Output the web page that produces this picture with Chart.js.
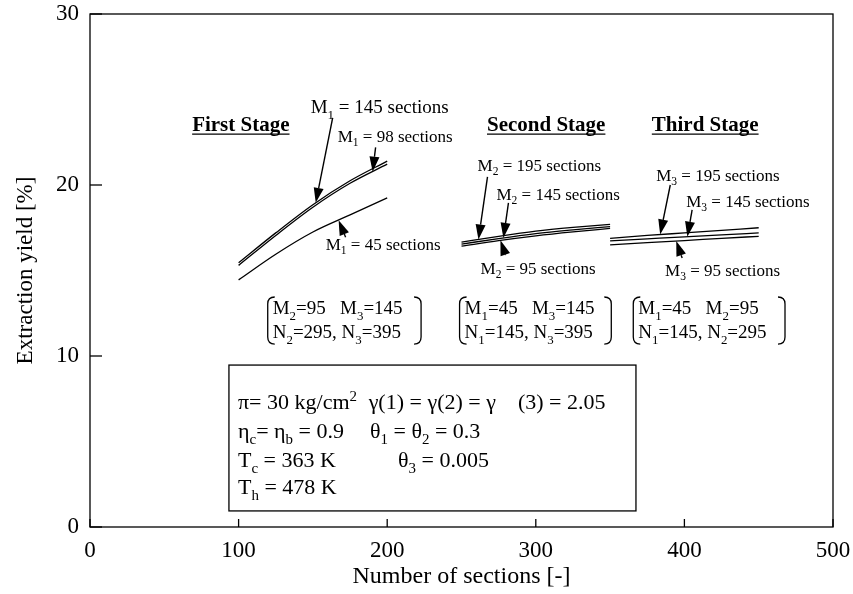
<!DOCTYPE html>
<html>
<head>
<meta charset="utf-8">
<script src="https://cdn.jsdelivr.net/npm/chart.js@4.4.0/dist/chart.umd.min.js"></script>
<style>
  html, body { margin: 0; padding: 0; background: #fff; }
</style>
</head>
<body>
<canvas id="chart" width="853" height="594"></canvas>
<script>
const FONT = "'Liberation Serif', 'Times New Roman', serif";

// first stage, M1 varied
const stage1X = [100, 125, 150, 175, 200];
const m1_145 = [15.45, 17.2, 18.85, 20.25, 21.4];
const m1_98 = [15.3, 17.05, 18.7, 20.1, 21.22];
const m1_45 = [14.45, 15.95, 17.25, 18.25, 19.25];

// second stage, M2 varied
const stage2X = [250, 275, 300, 325, 350];
const m2_195 = [16.66, 17.0, 17.3, 17.52, 17.7];
const m2_145 = [16.54, 16.87, 17.16, 17.38, 17.57];
const m2_95 = [16.42, 16.75, 17.03, 17.26, 17.46];

// third stage, M3 varied
const stage3X = [350, 375, 400, 425, 450];
const m3_195 = [16.88, 17.05, 17.2, 17.35, 17.5];
const m3_145 = [16.73, 16.85, 16.97, 17.08, 17.2];
const m3_95 = [16.5, 16.63, 16.75, 16.88, 17.0];

const xTicks = [0, 100, 200, 300, 400, 500];
const yTicks = [0, 10, 20, 30];

const series = {
  m1_145: [stage1X, m1_145], m1_98: [stage1X, m1_98], m1_45: [stage1X, m1_45],
  m2_195: [stage2X, m2_195], m2_145: [stage2X, m2_145], m2_95: [stage2X, m2_95],
  m3_195: [stage3X, m3_195], m3_145: [stage3X, m3_145], m3_95: [stage3X, m3_95]
};

function toPoints(xs, ys) {
  return xs.map((x, i) => ({ x: x, y: ys[i] }));
}

function yAt(name, x) {
  const xs = series[name][0], ys = series[name][1];
  for (let i = 0; i < xs.length - 1; i++) {
    if (x >= xs[i] && x <= xs[i + 1]) {
      const t = (x - xs[i]) / (xs[i + 1] - xs[i]);
      return ys[i] + t * (ys[i + 1] - ys[i]);
    }
  }
  return ys[ys.length - 1];
}

// labels and arrows, in data units
const stageTitles = [
  { text: 'First Stage', x: 101.5, y: 23.5 },
  { text: 'Second Stage', x: 307, y: 23.5 },
  { text: 'Third Stage', x: 414, y: 23.5 }
];

const lineLabels = [
  { text: 'M_{1} = 145 sections', x: 148.5, y: 24.56, size: 19 },
  { text: 'M_{1} = 98 sections', x: 166.7, y: 22.87, size: 17 },
  { text: 'M_{1} = 45 sections', x: 158.6, y: 16.55, size: 17 },
  { text: 'M_{2} = 195 sections', x: 260.8, y: 21.17, size: 17 },
  { text: 'M_{2} = 145 sections', x: 273.5, y: 19.47, size: 17 },
  { text: 'M_{2} = 95 sections', x: 262.8, y: 15.15, size: 17 },
  { text: 'M_{3} = 195 sections', x: 381, y: 20.58, size: 17 },
  { text: 'M_{3} = 145 sections', x: 401.2, y: 19.06, size: 17 },
  { text: 'M_{3} = 95 sections', x: 387, y: 15.03, size: 17 }
];

const arrows = [
  { fromX: 163.3, fromY: 23.92, to: 'm1_145', toX: 151.9 },
  { fromX: 192.2, fromY: 22.2, to: 'm1_98', toX: 190.2 },
  { fromX: 172, fromY: 16.95, to: 'm1_45', toX: 167.3 },
  { fromX: 267.5, fromY: 20.47, to: 'm2_195', toX: 261.4 },
  { fromX: 281.6, fromY: 18.95, to: 'm2_145', toX: 278.2 },
  { fromX: 279.6, fromY: 15.9, to: 'm2_95', toX: 276.2 },
  { fromX: 390.5, fromY: 20.0, to: 'm3_195', toX: 383.7 },
  { fromX: 405.2, fromY: 18.54, to: 'm3_145', toX: 402 },
  { fromX: 398.5, fromY: 15.73, to: 'm3_95', toX: 394.5 }
];

const brackets = [
  { x0: 119.6, x1: 222.8, rows: ['M_{2}=95   M_{3}=145', 'N_{2}=295, N_{3}=395'] },
  { x0: 248.7, x1: 350.8, rows: ['M_{1}=45   M_{3}=145', 'N_{1}=145, N_{3}=395'] },
  { x0: 365.6, x1: 467.7, rows: ['M_{1}=45   M_{2}=95', 'N_{1}=145, N_{2}=295'] }
];
const bracketTop = 13.45, bracketBottom = 10.7, bracketRows = [12.8, 11.4];

const paramBox = { x0: 93.5, x1: 367.4, y0: 0.94, y1: 9.47 };
const paramText = [
  { text: 'π= 30 kg/cm^{2}', x: 99.6, y: 7.3 },
  { text: 'γ(1) = γ(2) = γ    (3) = 2.05', x: 187.5, y: 7.3 },
  { text: 'η_{c}= η_{b} = 0.9', x: 99.6, y: 5.62 },
  { text: 'θ_{1} = θ_{2} = 0.3', x: 188.4, y: 5.62 },
  { text: 'T_{c} = 363 K', x: 99.6, y: 3.95 },
  { text: 'θ_{3} = 0.005', x: 207.3, y: 3.95 },
  { text: 'T_{h} = 478 K', x: 99.6, y: 2.34 }
];

// split "a_{b}c^{d}" into runs
function parseRich(str) {
  const parts = [];
  const re = /([_^])\{([^}]*)\}/g;
  let last = 0, m;
  while ((m = re.exec(str)) !== null) {
    if (m.index > last) parts.push({ t: str.slice(last, m.index), mode: '' });
    parts.push({ t: m[2], mode: m[1] === '_' ? 'sub' : 'sup' });
    last = re.lastIndex;
  }
  if (last < str.length) parts.push({ t: str.slice(last), mode: '' });
  return parts;
}

function drawRich(ctx, str, x, y, size, weight) {
  const parts = parseRich(str);
  const w = weight || 'normal';
  const base = y + size * 0.33;
  let cx = x;
  ctx.textAlign = 'left';
  ctx.textBaseline = 'alphabetic';
  parts.forEach(p => {
    let s = size, dy = 0;
    if (p.mode === 'sub') { s = size * 0.68; dy = size * 0.28; }
    if (p.mode === 'sup') { s = size * 0.68; dy = -size * 0.38; }
    ctx.font = w + ' ' + s + 'px ' + FONT;
    ctx.fillText(p.t, cx, base + dy);
    cx += ctx.measureText(p.t).width;
  });
  return cx - x;
}

function drawArrow(ctx, x1, y1, x2, y2) {
  const ang = Math.atan2(y2 - y1, x2 - x1);
  const len = 15, half = 5;
  const bx = x2 - len * Math.cos(ang), by = y2 - len * Math.sin(ang);
  ctx.beginPath();
  ctx.moveTo(x1, y1);
  ctx.lineTo(bx, by);
  ctx.lineWidth = 1.4;
  ctx.stroke();
  ctx.beginPath();
  ctx.moveTo(x2, y2);
  ctx.lineTo(bx + half * Math.sin(ang), by - half * Math.cos(ang));
  ctx.lineTo(bx - half * Math.sin(ang), by + half * Math.cos(ang));
  ctx.closePath();
  ctx.fill();
}

const notesPlugin = {
  id: 'notes',
  afterDraw(chart) {
    const ctx = chart.ctx;
    const xs = chart.scales.x, ys = chart.scales.y;
    const a = chart.chartArea;
    const px = v => xs.getPixelForValue(v);
    const py = v => ys.getPixelForValue(v);
    ctx.save();
    ctx.strokeStyle = '#000';
    ctx.fillStyle = '#000';

    // frame with inward ticks
    ctx.lineWidth = 1.3;
    ctx.strokeRect(a.left, a.top, a.right - a.left, a.bottom - a.top);
    yTicks.forEach(v => {
      ctx.beginPath();
      ctx.moveTo(a.left, py(v));
      ctx.lineTo(a.left + 12, py(v));
      ctx.stroke();
    });
    xTicks.forEach(v => {
      ctx.beginPath();
      ctx.moveTo(px(v), a.bottom);
      ctx.lineTo(px(v), a.bottom - 8);
      ctx.stroke();
    });

    // stage titles
    stageTitles.forEach(s => {
      ctx.font = 'bold 21px ' + FONT;
      ctx.textAlign = 'center';
      ctx.textBaseline = 'alphabetic';
      const w = ctx.measureText(s.text).width;
      const cx = px(s.x), base = py(s.y) + 6;
      ctx.fillText(s.text, cx, base);
      ctx.lineWidth = 1.2;
      ctx.beginPath();
      ctx.moveTo(cx - w / 2, base + 3);
      ctx.lineTo(cx + w / 2, base + 3);
      ctx.stroke();
    });

    lineLabels.forEach(l => drawRich(ctx, l.text, px(l.x), py(l.y), l.size));

    arrows.forEach(r => {
      drawArrow(ctx, px(r.fromX), py(r.fromY), px(r.toX), py(yAt(r.to, r.toX)));
    });

    // bracketed parameter sets
    brackets.forEach(b => {
      const l = px(b.x0), r = px(b.x1), t = py(bracketTop), btm = py(bracketBottom);
      const c = 7;
      ctx.lineWidth = 1.3;
      ctx.beginPath();
      ctx.moveTo(l + c, t);
      ctx.quadraticCurveTo(l, t, l, t + c);
      ctx.lineTo(l, btm - c);
      ctx.quadraticCurveTo(l, btm, l + c, btm);
      ctx.moveTo(r - c, t);
      ctx.quadraticCurveTo(r, t, r, t + c);
      ctx.lineTo(r, btm - c);
      ctx.quadraticCurveTo(r, btm, r - c, btm);
      ctx.stroke();
      b.rows.forEach((row, i) => drawRich(ctx, row, l + 5, py(bracketRows[i]), 19));
    });

    // operating conditions box
    ctx.lineWidth = 1.3;
    ctx.strokeRect(px(paramBox.x0), py(paramBox.y1),
      px(paramBox.x1) - px(paramBox.x0), py(paramBox.y0) - py(paramBox.y1));
    paramText.forEach(p => drawRich(ctx, p.text, px(p.x), py(p.y), 22));

    ctx.restore();
  }
};

const lineStyle = { borderColor: '#000', borderWidth: 1.3, pointRadius: 0, fill: false, cubicInterpolationMode: 'monotone' };

// keep the plot area fixed regardless of tick label overhang
function noOverhang(s) {
  s.paddingTop = 0;
  s.paddingBottom = 0;
  s.paddingLeft = 0;
  s.paddingRight = 0;
}

new Chart(document.getElementById('chart'), {
  type: 'line',
  data: {
    datasets: [
      Object.assign({ label: 'M1 = 145', data: toPoints(stage1X, m1_145) }, lineStyle),
      Object.assign({ label: 'M1 = 98', data: toPoints(stage1X, m1_98) }, lineStyle),
      Object.assign({ label: 'M1 = 45', data: toPoints(stage1X, m1_45) }, lineStyle),
      Object.assign({ label: 'M2 = 195', data: toPoints(stage2X, m2_195) }, lineStyle),
      Object.assign({ label: 'M2 = 145', data: toPoints(stage2X, m2_145) }, lineStyle),
      Object.assign({ label: 'M2 = 95', data: toPoints(stage2X, m2_95) }, lineStyle),
      Object.assign({ label: 'M3 = 195', data: toPoints(stage3X, m3_195) }, lineStyle),
      Object.assign({ label: 'M3 = 145', data: toPoints(stage3X, m3_145) }, lineStyle),
      Object.assign({ label: 'M3 = 95', data: toPoints(stage3X, m3_95) }, lineStyle)
    ]
  },
  options: {
    responsive: false,
    animation: false,
    layout: { padding: { top: 14, right: 20, left: 0, bottom: 0 } },
    plugins: { legend: { display: false }, tooltip: { enabled: false } },
    scales: {
      x: {
        type: 'linear', min: 0, max: 500,
        grid: { display: false, drawTicks: false },
        border: { display: false },
        ticks: {
          stepSize: 100, color: '#000', padding: 10, maxRotation: 0,
          font: { family: FONT, size: 23 }
        },
        title: {
          display: true, text: 'Number of sections [-]', color: '#000',
          font: { family: FONT, size: 24 }, padding: { top: 0, bottom: 3 }
        },
        afterFit(s) { s.height = 67; noOverhang(s); }
      },
      y: {
        type: 'linear', min: 0, max: 30,
        grid: { display: false, drawTicks: false },
        border: { display: false },
        ticks: {
          stepSize: 10, color: '#000', padding: 11,
          font: { family: FONT, size: 23 }
        },
        title: {
          display: true, text: 'Extraction yield [%]', color: '#000',
          font: { family: FONT, size: 23 }, padding: { top: 12, bottom: 0 }
        },
        afterFit(s) { s.width = 90; noOverhang(s); }
      }
    }
  },
  plugins: [notesPlugin]
});
</script>
</body>
</html>
